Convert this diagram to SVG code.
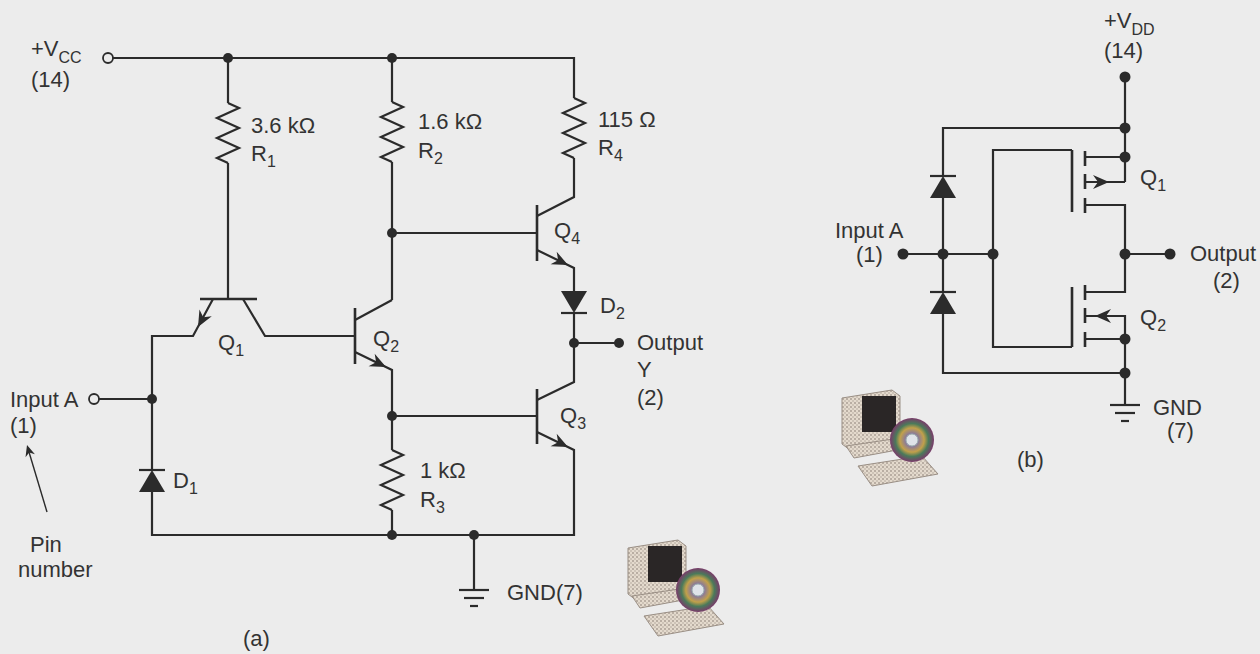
<svg xmlns="http://www.w3.org/2000/svg" xmlns:xlink="http://www.w3.org/1999/xlink" width="1260" height="654" viewBox="0 0 1260 654">
  <style>
    .w { fill: none; stroke: #2b2b2b; stroke-width: 2.2; stroke-linejoin: miter; stroke-linecap: butt; }
    .bar { fill: none; stroke: #2b2b2b; stroke-width: 2.6; }
    .dot { fill: #2b2b2b; }
    .open { fill: #ececec; stroke: #2b2b2b; stroke-width: 1.8; }
    text { font-family: "Liberation Sans", Arial, sans-serif; font-size: 22px; fill: #333; }
    .sub { font-size: 16px; }
  </style>
  <defs>
    <!-- resistor zigzag, 60 px tall, drawn downward from origin -->
    <path id="res" d="M0,0 l11,5 l-22,10 l22,10 l-22,10 l22,10 l-22,10 l11,5" fill="none" stroke="#2b2b2b" stroke-width="2.2" stroke-linejoin="miter"/>
    <!-- diode pointing up: bar (cathode) at origin -->
    <g id="diodeUp">
      <polygon points="0,0 -13,22 13,22" fill="#2b2b2b"/>
      <line x1="-13" y1="0" x2="13" y2="0" stroke="#2b2b2b" stroke-width="2.2"/>
    </g>
    <!-- arrowhead, tip at origin, pointing along +x -->
    <path id="arr" d="M0,0 L-16,-7 L-11,0 L-16,7 Z" fill="#2b2b2b"/>
    <!-- ground symbol, top line at origin -->
    <g id="gnd" stroke="#2b2b2b" stroke-width="2.2">
      <line x1="-15" y1="0" x2="15" y2="0"/>
      <line x1="-10" y1="8" x2="10" y2="8"/>
      <line x1="-4" y1="16" x2="4" y2="16"/>
    </g>
    <pattern id="speckle" width="4" height="4" patternUnits="userSpaceOnUse">
      <rect width="4" height="4" fill="#e4dacd"/>
      <rect width="2" height="2" fill="#b9aea3"/>
      <rect x="2" y="2" width="2" height="2" fill="#cdc3b7"/>
    </pattern>
    <radialGradient id="disc" cx="0.5" cy="0.5" r="0.5">
      <stop offset="0.2" stop-color="#e8e8f0"/>
      <stop offset="0.3" stop-color="#8a7a9a"/>
      <stop offset="0.55" stop-color="#c2a04a"/>
      <stop offset="0.75" stop-color="#4a7a5a"/>
      <stop offset="1" stop-color="#7a3a6a"/>
    </radialGradient>
    <!-- clip-art desktop computer with a disc -->
    <g id="pc">
      <polygon points="0,8 50,0 58,6 58,52 8,60 0,54" fill="url(#speckle)" stroke="#9a8f85" stroke-width="1"/>
      <rect x="20" y="6" width="34" height="36" fill="#2a2626"/>
      <polygon points="4,56 58,48 66,58 12,68" fill="url(#speckle)" stroke="#9a8f85" stroke-width="1"/>
      <polygon points="16,76 80,66 96,84 30,96" fill="url(#speckle)" stroke="#9a8f85" stroke-width="1"/>
      <circle cx="70" cy="50" r="22" fill="url(#disc)"/>
      <circle cx="70" cy="50" r="6" fill="#dfe3ea" stroke="#9aa" stroke-width="1"/>
    </g>
  </defs>

  <rect width="1260" height="654" fill="#ececec"/>

  <!-- ===== (a) TTL inverter ===== -->
  <g id="connectors-a">
    <!-- supply rail -->
    <path class="w" d="M113,58 H574 V98"/>
    <path class="w" d="M228,58 V103 M228,163 V299"/>
    <path class="w" d="M392,58 V102 M392,162 V300"/>
    <path class="w" d="M574,158 V197 L537,216"/>
    <!-- Q4 base and emitter -->
    <path class="w" d="M392,233 H537"/>
    <path class="w" d="M537,250 L574,268 V293"/>
    <!-- D2 to Q3 collector -->
    <path class="w" d="M574,313 V382 L537,400"/>
    <path class="w" d="M574,343 H619"/>
    <!-- Q3 base and emitter -->
    <path class="w" d="M392,416 H537"/>
    <path class="w" d="M537,432 L574,450 V535 H152 V492"/>
    <!-- Q2 -->
    <path class="w" d="M355,320 L392,300"/>
    <path class="w" d="M355,352 L392,370 V450 M392,510 V535"/>
    <!-- Q1 -->
    <path class="w" d="M213,299 L193,336 H152 V470"/>
    <path class="w" d="M243,299 L265,336 H355"/>
    <!-- input -->
    <path class="w" d="M99,399 H152"/>
    <!-- ground -->
    <path class="w" d="M474,535 V590"/>
    <!-- pin-number pointer -->
    <line x1="47" y1="512" x2="29" y2="452" stroke="#2b2b2b" stroke-width="1.4"/>
    <use href="#arr" transform="translate(27,445) rotate(-106.7) scale(0.7)"/>
  </g>

  <g id="R1"><use href="#res" x="228" y="103"/></g>
  <g id="R2"><use href="#res" x="392" y="102"/></g>
  <g id="R4"><use href="#res" x="574" y="98"/></g>
  <g id="R3"><use href="#res" x="392" y="450"/></g>

  <g id="Q1">
    <line class="bar" x1="200" y1="299" x2="257" y2="299"/>
    <use href="#arr" transform="translate(198,327) rotate(118.4)"/>
  </g>
  <g id="Q2">
    <line class="bar" x1="355" y1="308" x2="355" y2="364"/>
    <use href="#arr" transform="translate(386,367) rotate(26)"/>
  </g>
  <g id="Q4">
    <line class="bar" x1="537" y1="205" x2="537" y2="261"/>
    <use href="#arr" transform="translate(568,265) rotate(26)"/>
  </g>
  <g id="Q3">
    <line class="bar" x1="537" y1="389" x2="537" y2="444"/>
    <use href="#arr" transform="translate(568,447) rotate(26)"/>
  </g>
  <g id="D1"><use href="#diodeUp" x="152" y="470"/></g>
  <g id="D2"><use href="#diodeUp" transform="translate(574,313) rotate(180)"/></g>
  <g id="GND-a"><use href="#gnd" x="474" y="590"/></g>

  <g id="junctions-a">
    <circle class="dot" cx="228" cy="58" r="5"/>
    <circle class="dot" cx="392" cy="58" r="5"/>
    <circle class="dot" cx="392" cy="233" r="5"/>
    <circle class="dot" cx="574" cy="343" r="5"/>
    <circle class="dot" cx="619" cy="343" r="5"/>
    <circle class="dot" cx="152" cy="399" r="5"/>
    <circle class="dot" cx="392" cy="416" r="5"/>
    <circle class="dot" cx="392" cy="535" r="5"/>
    <circle class="dot" cx="474" cy="535" r="5"/>
    <circle class="open" cx="108" cy="58" r="5"/>
    <circle class="open" cx="94" cy="399" r="5"/>
  </g>

  <g id="labels-a">
    <text x="31" y="56">+V<tspan class="sub" dy="7">CC</tspan></text>
    <text x="31" y="87">(14)</text>
    <text x="251" y="133">3.6 kΩ</text>
    <text x="251" y="161">R<tspan class="sub" dy="6">1</tspan></text>
    <text x="418" y="129">1.6 kΩ</text>
    <text x="418" y="158">R<tspan class="sub" dy="6">2</tspan></text>
    <text x="598" y="127">115 Ω</text>
    <text x="598" y="155">R<tspan class="sub" dy="6">4</tspan></text>
    <text x="554" y="238">Q<tspan class="sub" dy="6">4</tspan></text>
    <text x="218" y="350">Q<tspan class="sub" dy="6">1</tspan></text>
    <text x="373" y="346">Q<tspan class="sub" dy="6">2</tspan></text>
    <text x="560" y="423">Q<tspan class="sub" dy="6">3</tspan></text>
    <text x="600" y="313">D<tspan class="sub" dy="6">2</tspan></text>
    <text x="173" y="488">D<tspan class="sub" dy="6">1</tspan></text>
    <text x="637" y="350">Output</text>
    <text x="637" y="377">Y</text>
    <text x="637" y="405">(2)</text>
    <text x="420" y="478">1 kΩ</text>
    <text x="420" y="507">R<tspan class="sub" dy="6">3</tspan></text>
    <text x="507" y="600">GND(7)</text>
    <text x="10" y="407">Input A</text>
    <text x="10" y="433">(1)</text>
    <text x="30" y="552">Pin</text>
    <text x="18" y="577">number</text>
    <text x="243" y="646">(a)</text>
  </g>

  <!-- ===== (b) CMOS inverter ===== -->
  <g id="connectors-b">
    <path class="w" d="M1125,77 V182"/>
    <path class="w" d="M1125,128 H943 V176 M943,197 V292 M943,313 V373 H1125"/>
    <path class="w" d="M1085,157 H1125"/>
    <path class="w" d="M1085,182 H1125"/>
    <path class="w" d="M1085,205 H1125 V292 H1085"/>
    <path class="w" d="M1085,316 H1125 V339 M1085,339 H1125 V405"/>
    <path class="w" d="M1072,150 H993 V347 H1072"/>
    <path class="w" d="M903,254 H993 M1125,254 H1170"/>
  </g>
  <g id="Q1-b">
    <line class="bar" x1="1072" y1="150" x2="1072" y2="212"/>
    <path class="bar" d="M1085,151 V166 M1085,174 V189 M1085,198 V213"/>
    <use href="#arr" transform="translate(1109,182)"/>
  </g>
  <g id="Q2-b">
    <line class="bar" x1="1072" y1="287" x2="1072" y2="347"/>
    <path class="bar" d="M1085,285 V300 M1085,308 V323 M1085,332 V347"/>
    <use href="#arr" transform="translate(1095,316) rotate(180)"/>
  </g>
  <g id="D-upper"><use href="#diodeUp" x="943" y="176"/></g>
  <g id="D-lower"><use href="#diodeUp" x="943" y="292"/></g>
  <g id="GND-b"><use href="#gnd" x="1125" y="405"/></g>
  <g id="junctions-b">
    <circle class="dot" cx="1125" cy="77" r="5.5"/>
    <circle class="dot" cx="1125" cy="128" r="5.5"/>
    <circle class="dot" cx="1125" cy="157" r="5.5"/>
    <circle class="dot" cx="903" cy="254" r="5.5"/>
    <circle class="dot" cx="943" cy="254" r="5.5"/>
    <circle class="dot" cx="993" cy="254" r="5.5"/>
    <circle class="dot" cx="1125" cy="254" r="5.5"/>
    <circle class="dot" cx="1170" cy="254" r="5.5"/>
    <circle class="dot" cx="1125" cy="339" r="5.5"/>
    <circle class="dot" cx="1125" cy="373" r="5.5"/>
  </g>
  <g id="labels-b">
    <text x="1104" y="28">+V<tspan class="sub" dy="7">DD</tspan></text>
    <text x="1104" y="58">(14)</text>
    <text x="835" y="238">Input A</text>
    <text x="856" y="262">(1)</text>
    <text x="1140" y="185">Q<tspan class="sub" dy="6">1</tspan></text>
    <text x="1140" y="325">Q<tspan class="sub" dy="6">2</tspan></text>
    <text x="1190" y="261">Output</text>
    <text x="1213" y="288">(2)</text>
    <text x="1153" y="415">GND</text>
    <text x="1167" y="438">(7)</text>
    <text x="1017" y="467">(b)</text>
  </g>

  <!-- clip-art computers -->
  <use href="#pc" transform="translate(842,390)"/>
  <use href="#pc" transform="translate(628,540)"/>
</svg>
